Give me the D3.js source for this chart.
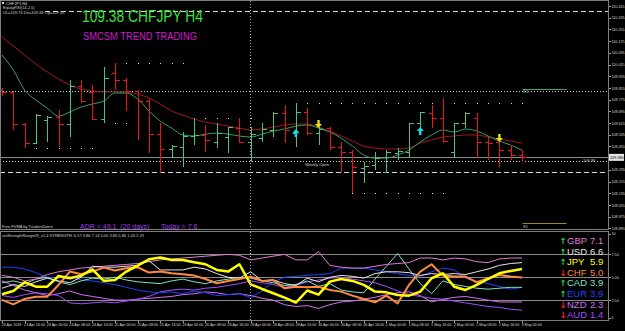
<!DOCTYPE html>
<html>
<head>
<meta charset="utf-8">
<script src="https://cdn.jsdelivr.net/npm/d3@7"></script>
<style>
  body { margin: 0; background: #000; }
  svg { display: block; font-family: "Liberation Sans", Arial, sans-serif; }
  .tiny { font-size: 4px; fill: #d0d0d0; }
  .axis path, .axis line { stroke: #a0a0a0; shape-rendering: crispEdges; }
  .axis text { fill: #d8d8d8; font-size: 3.7px; font-family: "Liberation Sans", Arial, sans-serif; }
</style>
</head>
<body>
<svg></svg>
<script>
//H4 bars, 23 Apr 08:00 -> 3 May 00:00
const opens  = [109.840, 109.827, 109.608, 109.478, 109.635, 109.655, 109.608, 109.868, 109.827, 109.642,
                109.957, 109.909, 109.834, 109.765, 109.539, 109.437, 109.451, 109.526, 109.533, 109.485,
                109.519, 109.580, 109.485, 109.512, 109.567, 109.683, 109.546, 109.690, 109.546, 109.580,
                109.451, 109.416, 109.307, 109.327, 109.280, 109.409, 109.416, 109.615, 109.683, 109.649,
                109.416, 109.615, 109.649, 109.485, 109.485, 109.430, 109.396];
const highs  = [109.854, 109.834, 109.615, 109.676, 109.662, 109.704, 109.909, 109.909, 109.875, 109.998,
                110.025, 109.923, 109.840, 109.779, 109.615, 109.464, 109.553, 109.649, 109.601, 109.615,
                109.587, 109.649, 109.587, 109.615, 109.690, 109.738, 109.751, 109.717, 109.587, 109.587,
                109.485, 109.430, 109.348, 109.416, 109.430, 109.444, 109.615, 109.690, 109.738, 109.786,
                109.615, 109.690, 109.683, 109.519, 109.498, 109.464, 109.430];
const lows   = [109.799, 109.567, 109.444, 109.471, 109.485, 109.451, 109.519, 109.751, 109.635, 109.615,
                109.840, 109.697, 109.498, 109.409, 109.273, 109.375, 109.314, 109.464, 109.416, 109.444,
                109.409, 109.478, 109.348, 109.485, 109.519, 109.478, 109.451, 109.533, 109.464, 109.430,
                109.280, 109.136, 109.204, 109.293, 109.273, 109.362, 109.375, 109.546, 109.580, 109.478,
                109.375, 109.580, 109.375, 109.362, 109.314, 109.362, 109.348];
const closes = [109.827, 109.608, 109.478, 109.669, 109.655, 109.608, 109.868, 109.765, 109.642, 109.923,
                109.909, 109.834, 109.765, 109.539, 109.437, 109.457, 109.526, 109.533, 109.498, 109.546,
                109.587, 109.485, 109.539, 109.574, 109.683, 109.567, 109.690, 109.546, 109.574, 109.451,
                109.416, 109.314, 109.321, 109.375, 109.416, 109.423, 109.615, 109.690, 109.649, 109.492,
                109.615, 109.683, 109.485, 109.478, 109.430, 109.396, 109.382];

//Moving averages
const fastMA = [110.080, 109.977, 109.840, 109.772, 109.717, 109.662, 109.690, 109.724, 109.745, 109.765,
                109.820, 109.820, 109.779, 109.697, 109.628, 109.580, 109.533, 109.526, 109.539, 109.546,
                109.539, 109.526, 109.519, 109.539, 109.560, 109.574, 109.594, 109.601, 109.580, 109.553,
                109.512, 109.457, 109.396, 109.375, 109.375, 109.396, 109.430, 109.485, 109.533, 109.567,
                109.553, 109.574, 109.560, 109.526, 109.492, 109.464, 109.430];
const slowMA = [110.203, 110.141, 110.080, 110.018, 109.964, 109.916, 109.875, 109.847, 109.834, 109.827,
                109.827, 109.827, 109.813, 109.786, 109.745, 109.697, 109.669, 109.642, 109.621, 109.608,
                109.594, 109.580, 109.567, 109.574, 109.587, 109.601, 109.608, 109.608, 109.587, 109.560,
                109.526, 109.492, 109.457, 109.444, 109.437, 109.437, 109.444, 109.478, 109.498, 109.519,
                109.526, 109.533, 109.533, 109.519, 109.505, 109.492, 109.478];

//Signal arrows
const upArrowBars = [26, 37];
const upArrowPrices = [109.546, 109.560];
const downArrowBars = [28, 44];
const downArrowPrices = [109.608, 109.512];

//Fractal dot rows
const dotRowStart = [10, 3, 17, 27, 31, 10];
const dotRowEnd   = [16, 8, 22, 46, 39, 11];
const dotRowPrice = [110.025, 109.444, 109.649, 109.751, 109.136, 109.615];

//Horizontal levels
const dashedLevels = [110.381, 109.280];
const dottedLevels = [109.834, 109.352];
const bidPrice = 109.38;
const pivotR = 109.847;
const pivotS = 108.931;

//Axis labels
const priceTicks = [110.415, 110.335, 110.255, 110.175, 110.095, 110.015, 109.935, 109.855, 109.775, 109.695,
                    109.615, 109.535, 109.455, 109.295, 109.215, 109.135, 109.055, 108.975, 108.895];
const timeLabels = ["23 Apr 2019", "23 Apr 16:00", "24 Apr 00:00", "24 Apr 08:00", "24 Apr 16:00", "25 Apr 00:00",
                    "25 Apr 08:00", "25 Apr 16:00", "26 Apr 00:00", "26 Apr 08:00", "26 Apr 16:00", "29 Apr 00:00",
                    "29 Apr 08:00", "29 Apr 16:00", "30 Apr 00:00", "30 Apr 08:00", "30 Apr 16:00", "1 May 00:00",
                    "1 May 08:00", "1 May 16:00", "2 May 00:00", "2 May 08:00", "2 May 16:00", "3 May 00:00"];
const timeLabelBars = [0, 2, 4, 6, 8, 10, 12, 14, 16, 18, 20, 22, 24, 26, 28, 30, 32, 34, 36, 38, 40, 42, 44, 46];
const weekStartBar = 22;
const strengthTicks = [0, 2.5, 5, 7.5, 10];

//Currency strength panel
const currencies = ["GBP", "USD", "JPY", "CHF", "CAD", "EUR", "NZD", "AUD"];
const strengthNow = [7.1, 6.6, 5.9, 5.0, 3.9, 3.9, 2.3, 1.4];
const strengthRising = [true, true, true, false, true, true, false, false];
const gbpStrength = [5.2, 5.0, 4.6, 4.8, 5.3, 5.6, 5.8, 6.0, 6.1, 6.2, 6.3, 6.4, 6.5, 6.7, 6.9, 7.0, 7.1, 7.2, 7.3, 7.4,
                     7.5, 7.4, 6.9, 7.1, 7.3, 7.5, 6.9, 6.9, 7.8, 6.3, 6.1, 6.0, 6.0, 6.2, 6.4, 6.5, 6.6, 7.1, 7.1, 6.9,
                     7.1, 7.0, 6.7, 6.6, 7.0, 7.1, 7.1];
const usdStrength = [3.8, 4.2, 4.0, 4.5, 4.9, 4.6, 4.4, 5.0, 6.2, 6.1, 6.1, 6.2, 6.3, 6.8, 5.8, 5.8, 5.8, 6.1, 5.9, 5.4,
                     5.0, 4.9, 5.6, 4.6, 4.7, 4.3, 4.1, 4.9, 4.5, 5.0, 5.2, 5.1, 4.9, 5.4, 5.6, 5.6, 5.5, 5.2, 5.4, 5.3,
                     5.4, 5.3, 5.6, 5.9, 6.3, 6.5, 6.6];
const jpyStrength = [3.14, 3.50, 4.45, 3.97, 3.97, 5.14, 4.89, 5.18, 5.87, 4.60, 4.70, 5.62, 6.27, 6.97, 7.15, 6.89,
                     6.89, 6.64, 6.42, 5.80, 5.62, 6.42, 4.23, 3.72, 3.25, 2.77, 2.23, 3.55, 3.10, 4.52, 4.81, 4.60,
                     4.16, 3.43, 3.35, 3.06, 2.99, 3.43, 4.89, 5.43, 3.97, 3.61, 4.16, 4.81, 5.43, 5.69, 5.91];
const chfStrength = [2.52, 2.04, 2.63, 2.88, 2.88, 4.16, 5.62, 5.32, 5.62, 6.05, 5.73, 5.98, 6.09, 5.51, 5.62, 5.43,
                     5.32, 5.18, 4.81, 4.34, 4.60, 4.81, 5.07, 4.60, 4.70, 3.79, 3.97, 3.90, 3.97, 3.61, 3.43, 2.99,
                     2.63, 2.26, 2.99, 2.15, 4.16, 5.62, 6.42, 5.18, 5.07, 5.07, 4.45, 4.89, 5.25, 5.07, 4.96];
const cadStrength = [4.4, 4.6, 4.3, 4.8, 5.0, 4.5, 4.2, 4.6, 4.9, 4.8, 5.0, 4.7, 4.5, 4.4, 4.3, 4.6, 4.8, 4.5, 4.3, 4.6,
                     4.8, 5.0, 4.9, 4.6, 4.4, 4.1, 4.2, 4.6, 4.0, 4.3, 3.6, 3.4, 3.3, 4.8, 6.2, 7.6, 5.9, 4.3, 3.2, 4.6,
                     4.2, 4.0, 3.8, 3.7, 3.8, 3.9, 3.9];
const eurStrength = [6.1, 6.1, 5.9, 5.5, 5.0, 4.9, 5.1, 4.7, 4.6, 4.4, 4.2, 3.9, 3.6, 3.4, 3.3, 3.4, 3.2, 3.5, 3.3, 3.0,
                     3.1, 3.2, 2.8, 3.5, 4.5, 5.0, 5.1, 5.2, 5.3, 5.4, 6.0, 6.0, 6.0, 5.8, 5.6, 5.4, 5.2, 5.1, 5.6, 6.0,
                     5.8, 4.9, 4.6, 4.3, 4.0, 3.7, 3.9];
const nzdStrength = [4.6, 4.1, 3.6, 3.3, 3.0, 3.2, 3.5, 3.1, 2.9, 2.7, 2.5, 2.5, 2.6, 2.7, 2.8, 2.9, 3.1, 3.2, 3.4, 3.3,
                     3.1, 3.2, 3.0, 2.7, 2.5, 2.0, 1.8, 1.9, 1.6, 2.0, 2.3, 2.4, 2.6, 2.8, 3.1, 3.3, 3.4, 3.0, 2.3, 2.6,
                     2.8, 2.9, 2.7, 2.5, 2.3, 2.3, 2.3];
const audStrength = [3.0, 2.8, 3.1, 3.3, 3.2, 3.0, 2.2, 2.1, 2.2, 2.3, 2.2, 2.4, 2.6, 2.9, 3.4, 3.6, 3.7, 3.6, 3.8, 3.9,
                     4.1, 4.3, 4.6, 4.4, 4.2, 3.9, 4.1, 4.5, 4.7, 4.9, 5.0, 4.8, 4.6, 4.4, 4.0, 3.5, 3.1, 2.9, 2.7, 2.6,
                     2.4, 2.2, 2.0, 1.8, 1.7, 1.5, 1.4];

drawChart();

function drawChart(){
  const w = 625;
  const h = 331;
  const plotRight = 608;
  const mainTop = 1;
  const mainBottom = 230;
  const subTop = 231;
  const subBottom = 320;

  //Scale Setup
  const xScale = d3.scaleLinear().domain([0, 46]).range([2, 522]);
  const yScale = d3.scaleLinear().domain([108.895, 110.415]).range([228.3, 6]);
  const sScale = d3.scaleLinear().domain([0, 10]).range([323, 231.5]);
  const px = (i) => Math.round(xScale(i)) + 0.5;
  const py = (p) => Math.round(yScale(p)) + 0.5;

  const chart = d3.select("svg")
                  .attr("width", w)
                  .attr("height", h);

  chart.append("rect").attr("width", w).attr("height", h).attr("fill", "#000");

  const defs = chart.append("defs");
  defs.append("clipPath").attr("id", "mainClip")
      .append("rect").attr("x", 0).attr("y", mainTop).attr("width", plotRight).attr("height", mainBottom - mainTop);
  defs.append("clipPath").attr("id", "subClip")
      .append("rect").attr("x", 0).attr("y", subTop).attr("width", plotRight).attr("height", subBottom - subTop);

  const main = chart.append("g").attr("clip-path", "url(#mainClip)");
  const sub = chart.append("g").attr("clip-path", "url(#subClip)");

  //Horizontal levels
  main.selectAll(".dashLevel")
      .data(dashedLevels)
      .enter()
      .append("line")
      .attr("x1", (d, i) => i === 0 ? 45 : 0)
      .attr("x2", plotRight)
      .attr("y1", (d) => py(d))
      .attr("y2", (d) => py(d))
      .attr("stroke", "#d8d8d8")
      .attr("stroke-dasharray", "5,3");

  main.selectAll(".dotLevel")
      .data(dottedLevels)
      .enter()
      .append("line")
      .attr("x1", 0)
      .attr("x2", plotRight)
      .attr("y1", (d) => py(d))
      .attr("y2", (d) => py(d))
      .attr("stroke", "#c8c8c8")
      .attr("stroke-dasharray", "1,2");

  main.append("line")
      .attr("x1", 0).attr("x2", plotRight)
      .attr("y1", py(bidPrice)).attr("y2", py(bidPrice))
      .attr("stroke", "#8c8c8c");

  main.append("line")
      .attr("x1", px(46)).attr("x2", px(46) + 44)
      .attr("y1", py(pivotR)).attr("y2", py(pivotR))
      .attr("stroke", "#3aa86a");
  main.append("line")
      .attr("x1", px(46)).attr("x2", px(46) + 44)
      .attr("y1", py(pivotS)).attr("y2", py(pivotS))
      .attr("stroke", "#a08a20");

  //Week separator
  chart.append("line")
       .attr("x1", px(weekStartBar) - 1).attr("x2", px(weekStartBar) - 1)
       .attr("y1", mainTop).attr("y2", subBottom)
       .attr("stroke", "#b0b0b0")
       .attr("stroke-dasharray", "1,2");

  //Moving averages
  const maLine = d3.line().x((d, i) => xScale(i)).y((d) => yScale(d)).curve(d3.curveMonotoneX);
  main.append("path").attr("d", maLine(slowMA)).attr("fill", "none").attr("stroke", "#a81818").attr("stroke-width", 1);
  main.append("path").attr("d", maLine(fastMA)).attr("fill", "none").attr("stroke", "#3d9e62").attr("stroke-width", 1);

  //Fractal dots
  dotRowPrice.forEach((p, r) => {
    const bars = d3.range(dotRowStart[r], dotRowEnd[r] + 1);
    main.selectAll(null)
        .data(bars)
        .enter()
        .append("rect")
        .attr("x", (d) => Math.round(xScale(d)))
        .attr("y", Math.round(yScale(p)))
        .attr("width", 1)
        .attr("height", 1)
        .attr("fill", "#e0e0e0");
  });

  //OHLC bars
  const bar = main.selectAll(".bar")
                  .data(opens)
                  .enter()
                  .append("g")
                  .classed("bar", true)
                  .attr("stroke", (d, i) => closes[i] >= d ? "#4fc27f" : "#e8141e")
                  .attr("shape-rendering", "crispEdges");
  bar.append("line")
     .attr("x1", (d, i) => px(i)).attr("x2", (d, i) => px(i))
     .attr("y1", (d, i) => yScale(highs[i])).attr("y2", (d, i) => yScale(lows[i]));
  bar.append("line")
     .attr("x1", (d, i) => px(i) - 4).attr("x2", (d, i) => px(i))
     .attr("y1", (d) => py(d)).attr("y2", (d) => py(d));
  bar.append("line")
     .attr("x1", (d, i) => px(i)).attr("x2", (d, i) => px(i) + 4)
     .attr("y1", (d, i) => py(closes[i])).attr("y2", (d, i) => py(closes[i]));

  //Signal arrows
  const arrowPath = (x, y, dir) => {
    const s = dir;  // 1 = up, -1 = down
    return `M${x},${y - 4 * s} L${x + 3.5},${y} L${x + 1.2},${y} L${x + 1.2},${y + 4 * s} ` +
           `L${x - 1.2},${y + 4 * s} L${x - 1.2},${y} L${x - 3.5},${y} Z`;
  };
  main.selectAll(".upArrow")
      .data(upArrowBars)
      .enter()
      .append("path")
      .attr("d", (d, i) => arrowPath(xScale(d), yScale(upArrowPrices[i]), 1))
      .attr("fill", "#10e0f0");
  main.selectAll(".downArrow")
      .data(downArrowBars)
      .enter()
      .append("path")
      .attr("d", (d, i) => arrowPath(xScale(d), yScale(downArrowPrices[i]), -1))
      .attr("fill", "#f0e010");

  //Main panel texts
  chart.append("rect").attr("x", 2).attr("y", 2).attr("width", 2).attr("height", 2).attr("fill", "#d0d0d0");
  chart.append("text").attr("class", "tiny").attr("x", 6).attr("y", 4.5).text("CHFJPY,H4");
  chart.append("text").attr("class", "tiny").attr("x", 3).attr("y", 9).text("EquityRSI(14,2.5)");
  chart.append("text").attr("class", "tiny").attr("x", 3).attr("y", 14).text("UL=109.76 Dn=109.38 Op=109.35");

  chart.append("text")
       .attr("x", 82).attr("y", 22)
       .attr("font-size", 16)
       .attr("textLength", 121)
       .attr("lengthAdjust", "spacingAndGlyphs")
       .attr("fill", "#3ee03e")
       .text("109.38 CHFJPY H4");
  chart.append("text")
       .attr("x", 83).attr("y", 39.5)
       .attr("font-size", 11)
       .attr("textLength", 114)
       .attr("lengthAdjust", "spacingAndGlyphs")
       .attr("fill", "#d21ad2")
       .text("SMCSM TREND TRADING");

  chart.append("text").attr("class", "tiny").attr("x", 305).attr("y", 166).text("Weekly Open");
  chart.append("text").attr("class", "tiny").attr("x", 583).attr("y", 162).text("109.38");
  chart.append("text").attr("class", "tiny").attr("x", 523).attr("y", 93).text("R1");
  chart.append("text").attr("class", "tiny").attr("x", 523).attr("y", 228).text("S1");
  chart.append("text").attr("class", "tiny").attr("x", 2).attr("y", 228).text("Free FVMA by TradersDome");
  chart.append("text")
       .attr("x", 80).attr("y", 229)
       .attr("font-size", 7)
       .attr("fill", "#a43cf0")
       .attr("xml:space", "preserve")
       .text("ADR = 49.1  (20 days)      Today = 7.6");

  //Strength panel grid
  sub.selectAll(".sGrid")
     .data([2.5, 5, 7.5])
     .enter()
     .append("line")
     .attr("x1", 0).attr("x2", plotRight)
     .attr("y1", (d) => Math.round(sScale(d)) + 0.5)
     .attr("y2", (d) => Math.round(sScale(d)) + 0.5)
     .attr("stroke", "#8a8a8a");

  //Strength lines
  const strengthSeries = [gbpStrength, usdStrength, jpyStrength, chfStrength, cadStrength, eurStrength, nzdStrength, audStrength];
  const colors = {GBP: "#e07ad8", USD: "#e8e8e8", JPY: "#ffff00", CHF: "#ff8a3c", CAD: "#7fe3c0", EUR: "#2040ff", NZD: "#d070f5", AUD: "#a44cff"};
  const widths = {GBP: 1, USD: 1, JPY: 2.5, CHF: 2, CAD: 1, EUR: 1, NZD: 1, AUD: 1};
  const sLine = d3.line().x((d, i) => xScale(i)).y((d) => sScale(d));
  const drawOrder = [6, 7, 5, 4, 0, 1, 3, 2];
  drawOrder.forEach((k) => {
    sub.append("path")
       .attr("d", sLine(strengthSeries[k]))
       .attr("fill", "none")
       .attr("stroke", colors[currencies[k]])
       .attr("stroke-width", widths[currencies[k]])
       .attr("stroke-linejoin", "round");
  });

  chart.append("text").attr("class", "tiny").attr("x", 2).attr("y", 236.5)
       .text("uniStrengthRange09_v1.4 STRENGTH: 6.57 3.86 7.14 5.00 3.86 5.86 1.43 2.29");

  //Legend
  const legend = chart.selectAll(".legend")
                      .data(currencies)
                      .enter()
                      .append("g")
                      .attr("transform", (d, i) => `translate(0, ${244 + i * 10.6})`);
  legend.append("text")
        .attr("x", 559.5)
        .attr("font-size", 8.5)
        .attr("font-weight", "bold")
        .attr("font-family", "DejaVu Sans, sans-serif")
        .attr("fill", (d, i) => strengthRising[i] ? "#20d040" : "#ff2020")
        .text((d, i) => strengthRising[i] ? "↑" : "↓");
  legend.append("text")
        .attr("x", 567)
        .attr("font-size", 9.5)
        .attr("fill", (d) => colors[d])
        .text((d) => d);
  legend.append("text")
        .attr("x", 590)
        .attr("font-size", 9.5)
        .attr("fill", (d) => colors[d])
        .text((d, i) => d3.format(".1f")(strengthNow[i]));

  //Frames
  chart.append("rect")
       .attr("x", 0.5).attr("y", mainTop - 0.5)
       .attr("width", plotRight).attr("height", mainBottom - mainTop)
       .attr("fill", "none").attr("stroke", "#808080");
  chart.append("rect")
       .attr("x", 0.5).attr("y", subTop + 0.5)
       .attr("width", plotRight).attr("height", subBottom - subTop)
       .attr("fill", "none").attr("stroke", "#808080");

  //Axis Setup
  const yAxis = d3.axisRight(yScale)
                  .tickValues(priceTicks)
                  .tickFormat(d3.format(".3f"))
                  .tickSize(2)
                  .tickPadding(1)
                  .tickSizeOuter(0);
  chart.append("g")
       .attr("class", "axis")
       .attr("transform", "translate(" + (plotRight + 0.5) + ", 0)")
       .call(yAxis)
       .call((g) => g.select(".domain").remove());

  const sAxis = d3.axisRight(sScale)
                  .tickValues(strengthTicks)
                  .tickFormat((d) => d === 0 || d === 10 ? d : d3.format(".2f")(d))
                  .tickSize(2)
                  .tickPadding(1)
                  .tickSizeOuter(0);
  chart.append("g")
       .attr("class", "axis")
       .attr("transform", "translate(" + (plotRight + 0.5) + ", 0)")
       .call(sAxis)
       .call((g) => g.select(".domain").remove())
       .call((g) => g.selectAll(".tick").filter((d) => d === 0 || d === 10).attr("transform", (d) => `translate(0, ${d === 0 ? 318 : 234})`));

  const xAxis = d3.axisBottom(xScale)
                  .tickValues(timeLabelBars)
                  .tickFormat((d, i) => timeLabels[i])
                  .tickSize(2)
                  .tickSizeOuter(0);
  chart.append("g")
       .attr("class", "axis")
       .attr("transform", "translate(0, " + (subBottom + 0.5) + ")")
       .call(xAxis)
       .call((g) => g.select(".domain").remove())
       .call((g) => g.selectAll("text").attr("text-anchor", "start").attr("dx", -1).attr("y", 3));

  //Current price box
  chart.append("rect")
       .attr("x", plotRight + 1).attr("y", yScale(bidPrice) - 3.5)
       .attr("width", 15).attr("height", 7)
       .attr("fill", "#e4e4e4");
  chart.append("text")
       .attr("x", plotRight + 2).attr("y", yScale(bidPrice) + 1.5)
       .attr("font-size", 3.8)
       .attr("fill", "#000")
       .text(d3.format(".3f")(bidPrice));
};
</script>
</body>
</html>
